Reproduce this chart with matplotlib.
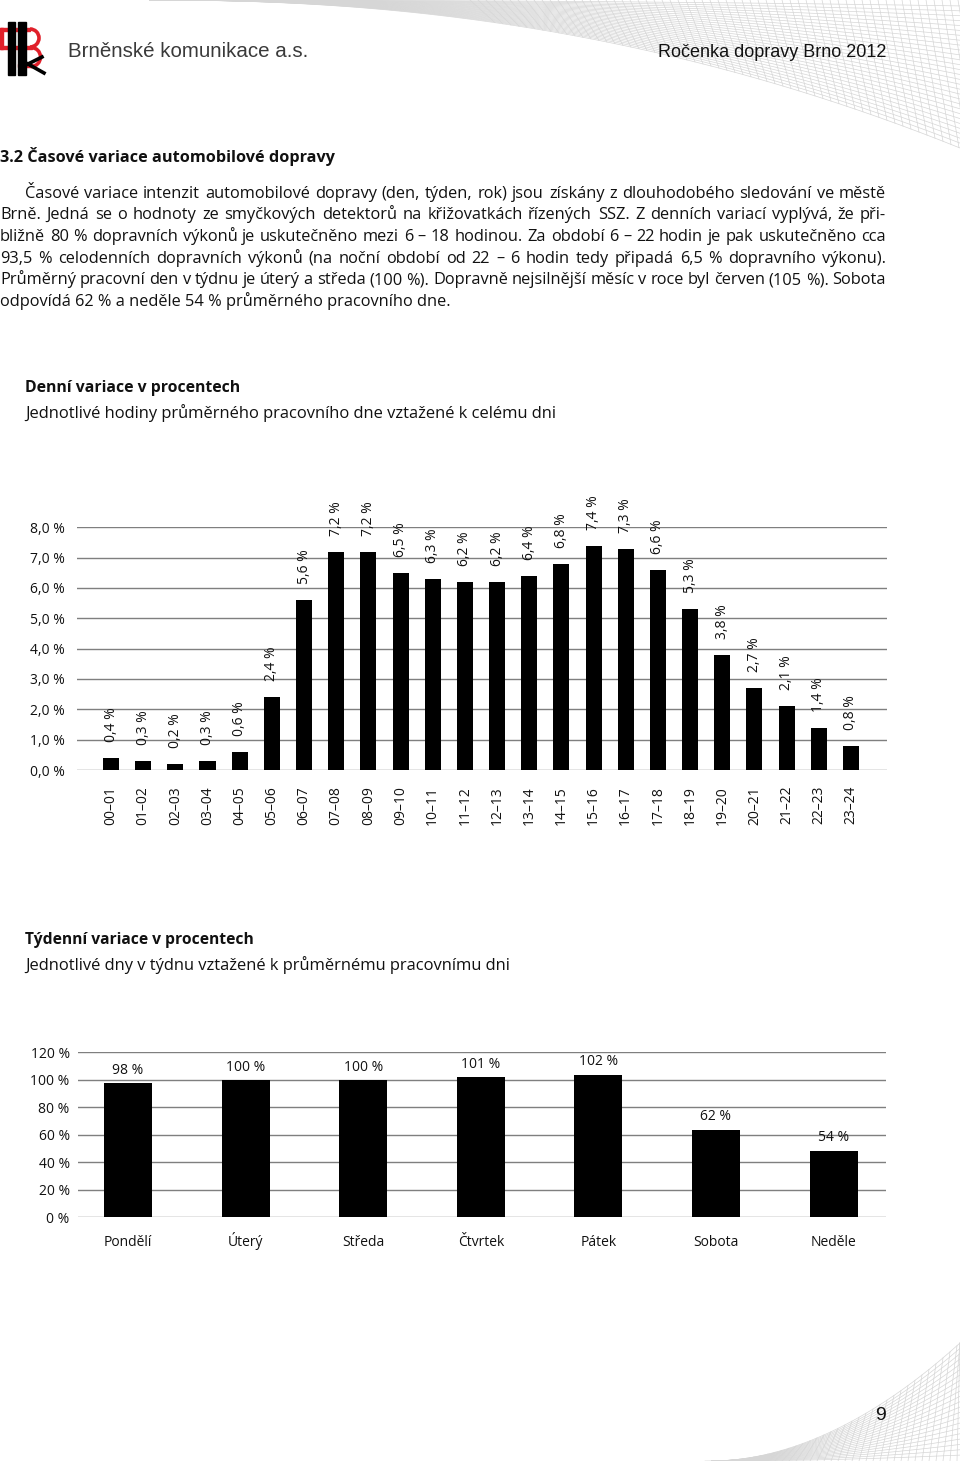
import numpy as np
import matplotlib
matplotlib.use('Agg')
import matplotlib.pyplot as plt
from matplotlib.patches import Rectangle, Arc

plt.rcParams['font.family'] = ['Open Sans', 'DejaVu Sans']

W, H = 960, 1461

# ---- data ----
hours = ['00–01', '01–02', '02–03', '03–04', '04–05', '05–06', '06–07', '07–08',
         '08–09', '09–10', '10–11', '11–12', '12–13', '13–14', '14–15', '15–16',
         '16–17', '17–18', '18–19', '19–20', '20–21', '21–22', '22–23', '23–24']
daily = [0.4, 0.3, 0.2, 0.3, 0.6, 2.4, 5.6, 7.2, 7.2, 6.5, 6.3, 6.2,
         6.2, 6.4, 6.8, 7.4, 7.3, 6.6, 5.3, 3.8, 2.7, 2.1, 1.4, 0.8]
daily_ticks = ['0,0 %', '1,0 %', '2,0 %', '3,0 %', '4,0 %', '5,0 %', '6,0 %', '7,0 %', '8,0 %']

days = ['Pondělí', 'Úterý', 'Středa', 'Čtvrtek', 'Pátek', 'Sobota', 'Neděle']
weekly_bar = [97.5, 99.8, 99.8, 101.8, 103.7, 63.7, 48.4]   # bar heights as drawn
weekly_labels = ['98 %', '100 %', '100 %', '101 %', '102 %', '62 %', '54 %']
weekly_ticks = ['0 %', '20 %', '40 %', '60 %', '80 %', '100 %', '120 %']

intro = [
    'Časové variace intenzit automobilové dopravy (den, týden, rok) jsou získány z dlouhodobého sledování ve městě',
    'Brně. Jedná se o hodnoty ze smyčkových detektorů na křižovatkách řízených SSZ. Z denních variací vyplývá, že při-',
    'bližně 80 % dopravních výkonů je uskutečněno mezi 6 – 18 hodinou. Za období 6 – 22 hodin je pak uskutečněno cca',
    '93,5 % celodenních dopravních výkonů (na noční období od 22 – 6 hodin tedy připadá 6,5 % dopravního výkonu).',
    'Průměrný pracovní den v týdnu je úterý a středa (100 %). Dopravně nejsilnější měsíc v roce byl červen (105 %). Sobota',
    'odpovídá 62 % a neděle 54 % průměrného pracovního dne.',
]

fig = plt.figure(figsize=(W / 100, H / 100), dpi=100)
bg = fig.add_axes([0, 0, 1, 1], zorder=0)
bg.set_xlim(0, W)
bg.set_ylim(H, 0)
bg.axis('off')
renderer = fig.canvas.get_renderer()


def fit(x, y, s, width, **kw):
    t = bg.text(x, y, s, fontsize=10, va='baseline', **kw)
    w = t.get_window_extent(renderer).width
    t.set_fontsize(10 * width / w)
    return t


def justify(x0, x1, y, s, size):
    words = s.split(' ')
    ts = [bg.text(0, y, w, fontsize=size, va='baseline', color='#111111') for w in words]
    widths = [t.get_window_extent(renderer).width for t in ts]
    gap = (x1 - x0 - sum(widths)) / (len(words) - 1)
    x = x0
    for t, wd in zip(ts, widths):
        t.set_x(x)
        x += wd + gap


# ---- background mesh decorations ----
mesh = dict(color='#d6d6d6', lw=0.5, zorder=0)


def top_edge(x):
    return 148 * ((np.clip(x, 150, 960) - 150) / 810) ** 2.2


xs = np.linspace(150, 960, 200)
for t in np.linspace(0.04, 1, 30):
    bg.plot(xs, top_edge(xs) * t, **mesh)
for x0 in np.arange(470, 1000, 8):
    x1 = x0 + 25
    bg.plot([x0, x1], [0, top_edge(x1)], **mesh)


def bottom_edge(x):
    return 118 * ((np.clip(x, 712, 960) - 712) / 248) ** 1.9


xb = np.linspace(712, 960, 150)
for t in np.linspace(0.05, 1, 22):
    bg.plot(xb, H - bottom_edge(xb) * t, **mesh)
for x0 in np.arange(705, 975, 7):
    x1 = min(x0 + 14, 960)
    bg.plot([x0, x1], [H, H - bottom_edge(x1)], **mesh)

# ---- logo ----
red = '#e0202a'
for r in [(0, 28, 30, 3), (0, 46, 32, 3), (18, 64, 14, 3), (0, 28, 3, 21)]:
    bg.add_patch(Rectangle((r[0], r[1]), r[2], r[3], color=red, zorder=2))
bg.add_patch(Arc((30, 38), 18, 18, theta1=-90, theta2=90, color=red, lw=2.6, zorder=2))
bg.add_patch(Arc((31, 57), 19, 19, theta1=-90, theta2=90, color=red, lw=2.6, zorder=2))
bg.add_patch(Rectangle((8, 22), 7, 53, color='black', zorder=3))
bg.add_patch(Rectangle((18, 22), 8, 53, color='black', zorder=3))
bg.plot([26, 42], [65, 57], color='black', lw=2.6, zorder=3)
bg.plot([28, 44], [64, 73], color='black', lw=2.6, zorder=3)

# ---- header ----
fit(68, 57, 'Brněnské komunikace a.s.', 241, color='#3a3a3a', family='Liberation Sans')
fit(886, 57, 'Ročenka dopravy Brno 2012', 230, color='#111111', family='Liberation Sans', ha='right')

# ---- section text ----
fit(0, 162, '3.2 Časové variace automobilové dopravy', 336, fontweight='bold', color='#111111')
last = fit(0, 197.5 + 5 * 21.7, intro[5], 452, color='#111111')
size = last.get_fontsize()
for k, line in enumerate(intro[:5]):
    justify(25 if k == 0 else 0, 886, 197.5 + k * 21.7, line, size)

fit(25, 392, 'Denní variace v procentech', 214, fontweight='bold', color='#111111')
fit(25, 418, 'Jednotlivé hodiny průměrného pracovního dne vztažené k celému dni', 531, color='#111111')
fit(25, 944, 'Týdenní variace v procentech', 229, fontweight='bold', color='#111111')
fit(25, 970, 'Jednotlivé dny v týdnu vztažené k průměrnému pracovnímu dni', 485, color='#111111')

bg.text(880, 1420, '9', fontsize=14, ha='center', va='baseline', family='Liberation Sans', color='#111111')


def style(ax):
    ax.patch.set_alpha(0)
    for s in ax.spines.values():
        s.set_visible(False)
    ax.grid(axis='y', color='#7f7f7f', lw=1.0)
    ax.set_axisbelow(True)
    ax.tick_params(length=0, labelsize=10, colors='#111111')


# ---- daily chart ----
ax1 = fig.add_axes([77 / W, (H - 770) / H, 810 / W, 242.7 / H], zorder=2)
x = np.arange(len(hours))
ax1.bar(x, daily, width=0.5, color='black', zorder=3)
ax1.set_xlim(-1.057, 24.12)
ax1.set_ylim(0, 8)
ax1.set_yticks(range(9))
ax1.set_yticklabels(daily_ticks)
ax1.set_xticks(x)
ax1.set_xticklabels(hours, rotation=90)
style(ax1)
ax1.tick_params(axis='x', pad=11.5)
ax1.tick_params(axis='y', pad=9)
for xi, v in zip(x, daily):
    ax1.annotate(f'{v:.1f}'.replace('.', ',') + ' %', (xi, v), xytext=(0, 11.5),
                 textcoords='offset points', rotation=90, ha='center', va='bottom',
                 fontsize=10, color='#111111', annotation_clip=False)

# ---- weekly chart ----
ax2 = fig.add_axes([78 / W, (H - 1217.3) / H, 808 / W, 165 / H], zorder=2)
xd = np.arange(len(days))
ax2.bar(xd, weekly_bar, width=0.408, color='black', zorder=3)
ax2.set_xlim(-0.425, 6.446)
ax2.set_ylim(0, 120)
ax2.set_yticks(range(0, 121, 20))
ax2.set_yticklabels(weekly_ticks)
ax2.set_xticks(xd)
ax2.set_xticklabels(days, va='baseline')
style(ax2)
ax2.tick_params(axis='x', pad=20.5)
ax2.tick_params(axis='y', pad=6)
for xi, v, lab in zip(xd, weekly_bar, weekly_labels):
    ax2.annotate(lab, (xi, v), xytext=(0, 4), textcoords='offset points',
                 ha='center', va='bottom', fontsize=10, color='#111111', annotation_clip=False)

fig.savefig('out.png', dpi=100)
